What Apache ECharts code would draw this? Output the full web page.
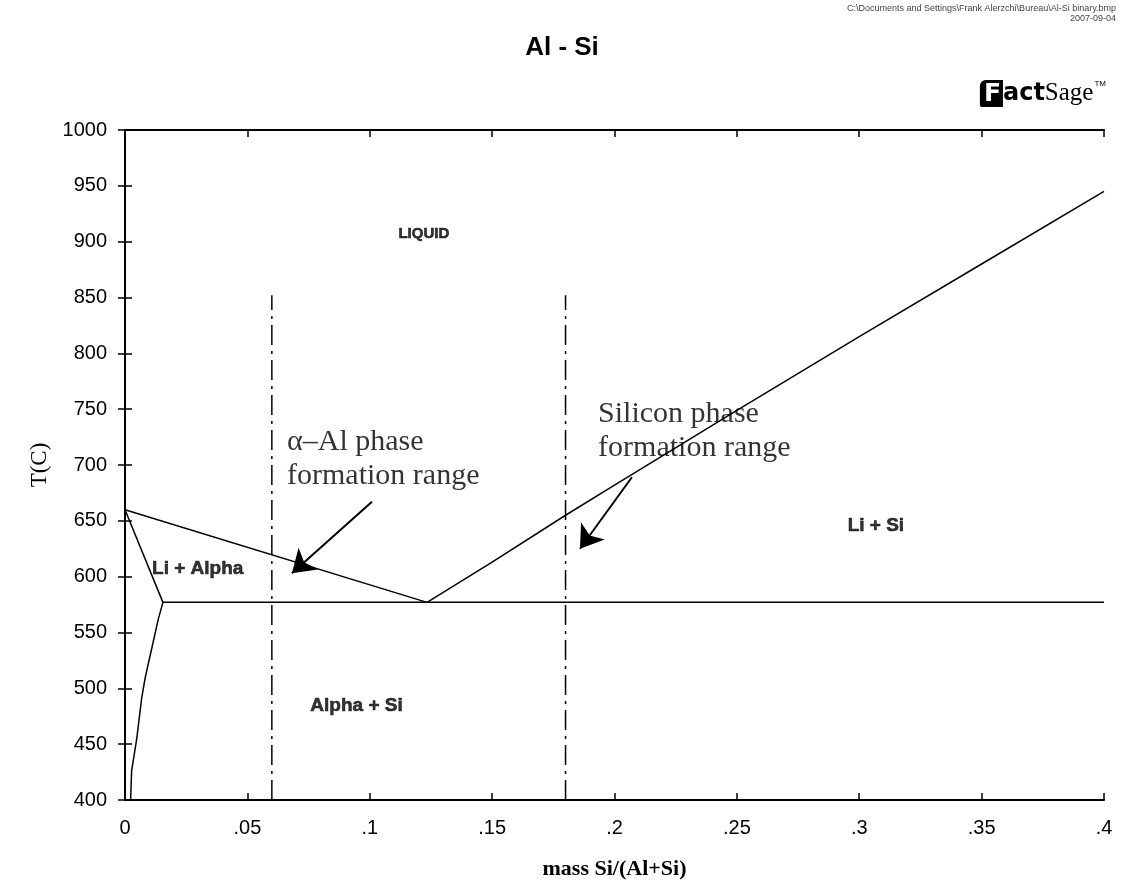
<!DOCTYPE html>
<html>
<head>
<meta charset="utf-8">
<title>Al - Si</title>
<script src="https://cdn.jsdelivr.net/npm/echarts@6/dist/echarts.min.js"></script>
<style>
  html, body { margin: 0; padding: 0; background: #fff; }
  #chart { width: 1124px; height: 885px; }
</style>
</head>
<body>
<div id="chart"></div>
<script>
// phase boundaries, x = mass Si/(Al+Si), T in C
var alLiquidusX = [0, 0.1234];
var alLiquidusT = [660, 577];
var siLiquidusX = [0.1234, 0.15, 0.18, 0.2, 0.25, 0.3, 0.35, 0.4];
var siLiquidusT = [577, 613, 655, 682, 749, 815, 880, 945];
var solidusX = [0, 0.0155];
var solidusT = [660, 577];
var solvusX = [0.0155, 0.0136, 0.0082, 0.0068, 0.0048, 0.0027, 0.0023];
var solvusT = [577, 562, 509, 491, 455, 426, 400];
var eutecticX = [0.0155, 0.4];
var eutecticT = [577, 577];

// dash-dot composition limits
var limitX = [0.06, 0.18];
var limitT = [400, 852];

// arrows [tailX, tailT, tipX, tipT]
var arrowAlpha = [0.1009, 667, 0.0682, 603];
var arrowSi = [0.2071, 689, 0.1859, 625];

// region labels
var regionNames = ['LIQUID', 'Li + Alpha', 'Alpha + Si', 'Li + Si'];
var regionX = [0.1221, 0.0297, 0.0946, 0.3068];
var regionT = [907, 607, 484, 646];
var regionSize = [15, 19, 19, 19];

// annotations (left aligned)
var noteNames = ['\u03b1\u2013Al phase\nformation range', 'Silicon phase\nformation range'];
var noteX = [0.0662, 0.1933];
var noteT = [705, 730];

var xTicks = {min: 0, max: 0.4, interval: 0.05};
var yTicks = {min: 400, max: 1000, interval: 50};

function pairs(xs, ys) {
    var out = [];
    for (var i = 0; i < xs.length; i++) {
        out.push([xs[i], ys[i]]);
    }
    return out;
}

function boundary(xs, ys) {
    return {
        type: 'line',
        data: pairs(xs, ys),
        showSymbol: false,
        silent: true,
        lineStyle: {color: '#000', width: 1.5}
    };
}

var chart = echarts.init(document.getElementById('chart'));

var labelFont = {fontFamily: 'Liberation Sans', fontSize: 20, color: '#000'};
var tickStyle = {show: true, inside: true, length: 7, lineStyle: {color: '#000', width: 1.5}};
var axisLine = {show: true, lineStyle: {color: '#000', width: 2}};

var series = [
    boundary(alLiquidusX, alLiquidusT),
    boundary(siLiquidusX, siLiquidusT),
    boundary(solidusX, solidusT),
    boundary(solvusX, solvusT),
    boundary(eutecticX, eutecticT)
];

limitX.forEach(function (x) {
    series.push({
        type: 'line',
        data: [[x, limitT[0]], [x, limitT[1]]],
        showSymbol: false,
        silent: true,
        lineStyle: {color: '#000', width: 1.5, type: [20, 6, 3, 6]}
    });
});

series.push({
    type: 'lines',
    coordinateSystem: 'cartesian2d',
    silent: true,
    symbol: ['none', 'arrow'],
    symbolSize: 22,
    lineStyle: {color: '#000', width: 2, opacity: 1},
    data: [arrowAlpha, arrowSi].map(function (a) {
        return {coords: [[a[0], a[1]], [a[2], a[3]]]};
    })
});

series.push({
    type: 'scatter',
    symbolSize: 0,
    silent: true,
    label: {
        show: true,
        position: 'inside',
        formatter: '{b}',
        fontFamily: 'Liberation Sans',
        fontWeight: 'bold',
        color: '#000',
        textBorderColor: '#000',
        textBorderWidth: 0.6
    },
    data: regionNames.map(function (n, i) {
        return {name: n, value: [regionX[i], regionT[i]], label: {fontSize: regionSize[i]}};
    })
});

series.push({
    type: 'scatter',
    symbolSize: 0,
    silent: true,
    label: {
        show: true,
        position: 'right',
        distance: 0,
        align: 'left',
        formatter: '{b}',
        fontFamily: 'Liberation Serif',
        fontSize: 30,
        lineHeight: 34,
        color: '#000'
    },
    data: noteNames.map(function (n, i) {
        return {name: n, value: [noteX[i], noteT[i]]};
    })
});

var option = {
    animation: false,
    backgroundColor: '#fff',
    title: {
        text: 'Al - Si',
        left: 'center',
        top: 30,
        textStyle: {fontFamily: 'Liberation Sans', fontWeight: 'bold', fontSize: 26, color: '#000'}
    },
    graphic: [
        {
            type: 'text',
            x: 1116,
            y: 4,
            style: {
                text: 'C:\\Documents and Settings\\Frank Alerzchi\\Bureau\\Al-Si binary.bmp\n2007-09-04',
                align: 'right',
                fontFamily: 'Liberation Sans',
                fontSize: 9,
                lineHeight: 10,
                fill: '#444'
            }
        },
        {
            type: 'text',
            x: 1106,
            y: 80,
            style: {
                text: '{f|F}{a|act}{s|Sage}{t|TM}',
                align: 'right',
                rich: {
                    f: {fontFamily: 'DejaVu Sans', fontWeight: 'bold', fontSize: 25, fill: '#fff', backgroundColor: '#000', padding: [2, 2, 0, 4], borderRadius: [6, 0, 0, 2]},
                    a: {fontFamily: 'DejaVu Sans', fontWeight: 'bold', fontSize: 24, fill: '#000'},
                    s: {fontFamily: 'Liberation Serif', fontSize: 25, fill: '#000'},
                    t: {fontFamily: 'Liberation Sans', fontSize: 8, fill: '#000', verticalAlign: 'top', padding: [0, 0, 14, 1]}
                }
            }
        }
    ],
    grid: {left: 125, right: 20, top: 130, bottom: 83},
    xAxis: [
        {
            type: 'value',
            position: 'bottom',
            min: xTicks.min,
            max: xTicks.max,
            interval: xTicks.interval,
            name: 'mass Si/(Al+Si)',
            nameLocation: 'middle',
            nameGap: 58,
            nameTextStyle: {fontFamily: 'Liberation Serif', fontWeight: 'bold', fontSize: 22, color: '#000'},
            axisLine: axisLine,
            axisTick: tickStyle,
            splitLine: {show: false},
            axisLabel: Object.assign({
                margin: 18,
                formatter: function (v) {
                    if (v === 0) return '0';
                    return String(+v.toFixed(2)).replace(/^0/, '');
                }
            }, labelFont)
        },
        {
            type: 'value',
            position: 'top',
            min: xTicks.min,
            max: xTicks.max,
            interval: xTicks.interval,
            axisLine: axisLine,
            axisTick: tickStyle,
            axisLabel: {show: false},
            splitLine: {show: false}
        }
    ],
    yAxis: [
        {
            type: 'value',
            position: 'left',
            min: yTicks.min,
            max: yTicks.max,
            interval: yTicks.interval,
            name: 'T(C)',
            nameLocation: 'middle',
            nameGap: 72,
            nameTextStyle: {fontFamily: 'Liberation Serif', fontSize: 23, color: '#000'},
            axisLine: axisLine,
            axisTick: tickStyle,
            splitLine: {show: false},
            axisLabel: Object.assign({
                margin: 18,
                formatter: function (v) { return String(v); }
            }, labelFont)
        },
        {
            type: 'value',
            position: 'right',
            min: yTicks.min,
            max: yTicks.max,
            interval: yTicks.interval,
            axisLine: axisLine,
            axisTick: tickStyle,
            axisLabel: {show: false},
            splitLine: {show: false}
        }
    ],
    series: series
};

chart.setOption(option);
</script>
</body>
</html>
